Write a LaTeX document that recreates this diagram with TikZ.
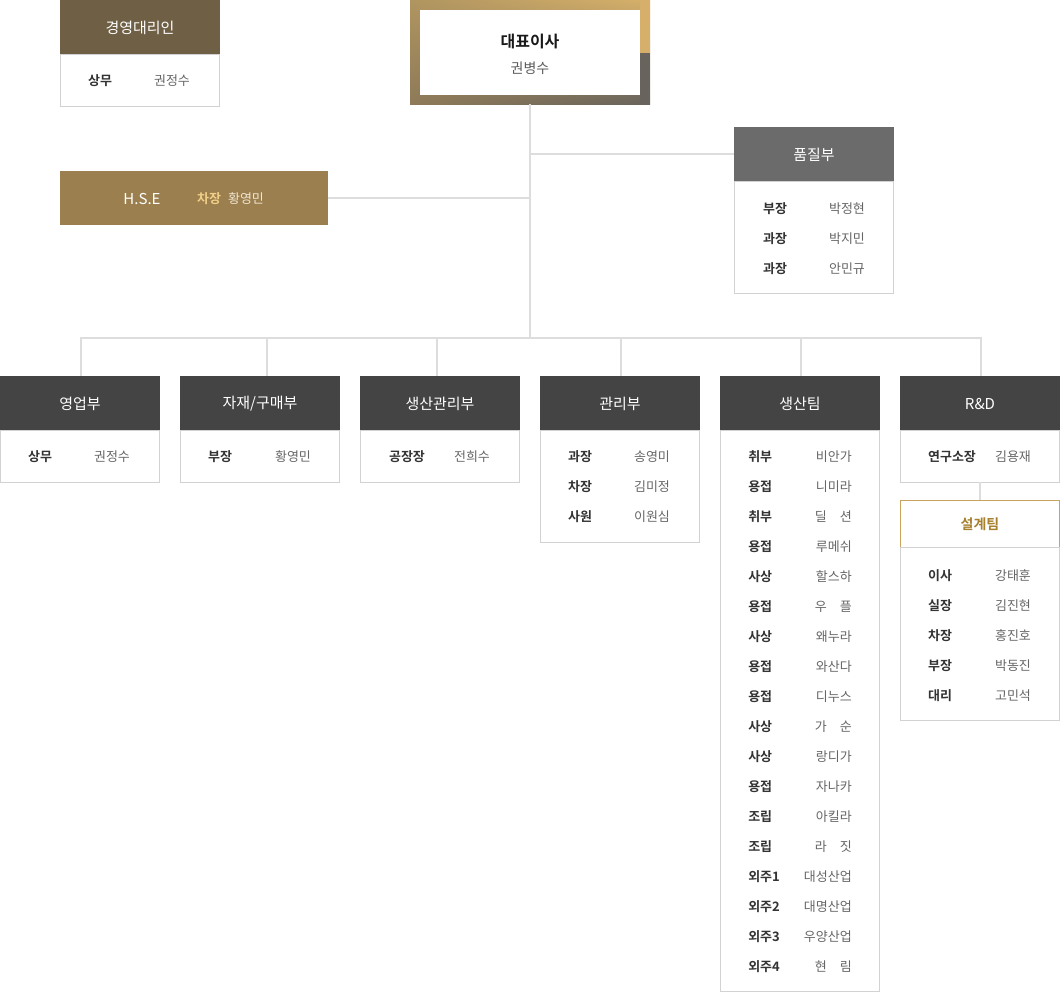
\documentclass[tikz,border=0pt]{standalone}
\usepackage{fontspec}
\usetikzlibrary{shadings}
\setmainfont{Noto Sans CJK KR}[BoldFont={Noto Sans CJK KR Bold}]
\definecolor{bordc}{HTML}{D2D2D2}
\definecolor{linec}{HTML}{DDDDDD}
\definecolor{labc}{HTML}{333333}
\definecolor{namec}{HTML}{666666}
\definecolor{darkh}{HTML}{444444}
\definecolor{qagray}{HTML}{6B6B6B}
\definecolor{agentc}{HTML}{6F5F45}
\definecolor{hsec}{HTML}{9B7F4F}
\definecolor{goldb}{HTML}{C6A45E}
\definecolor{goldt}{HTML}{A8812E}
\definecolor{hsegold}{HTML}{F2CF86}
\definecolor{hselight}{HTML}{F0E6D2}
\definecolor{ceoTL}{HTML}{B09560}
\definecolor{ceoTR}{HTML}{D6B06A}
\definecolor{ceoBL}{HTML}{8E7A58}
\definecolor{ceoBR}{HTML}{68635C}
\newcommand\prow[6]{\node[lab] (#1l) at (#3,#2) {#5}; \node[nm] (#1n) at (#4,#2) {#6};}
\tikzset{
  hdr/.style={rectangle, inner sep=0pt, outer sep=0pt, minimum width=120pt, minimum height=40.5pt,
    text=white, font=\fontsize{11.25}{13}\selectfont, anchor=north west},
  bodybox/.style={rectangle, draw=bordc, line width=0.75pt, fill=white, inner sep=0pt, outer sep=0pt,
    minimum width=119.25pt, anchor=north west, xshift=0.375pt},
  lab/.style={font=\fontsize{9.75}{12}\selectfont\bfseries, text=labc, inner sep=0pt, yshift=-1.1pt},
  nm/.style={font=\fontsize{9.75}{12}\selectfont, text=namec, inner sep=0pt, yshift=-1.1pt},
  ttl/.style={text=white, font=\fontsize{11.25}{13}\selectfont, inner sep=0pt, yshift=-0.8pt},
  conn/.style={draw=linec, line width=1.5pt},
}
\begin{document}
\begin{tikzpicture}[x=0.75pt, y=-0.75pt]
\useasboundingbox (0,0) rectangle (1060,992);

% ---------- CEO ----------
\node[rectangle, inner sep=0pt, outer sep=0pt, minimum width=180pt, minimum height=78pt,
  shade, upper left=ceoTL, upper right=ceoTR, lower left=ceoBL, lower right=ceoBR,
  anchor=north west] (ceoframe) at (410,0) {};
\fill[ceoTR] (640,0) rectangle (650,53);
\fill[ceoBR] (640,53) rectangle (650,104);
\node[rectangle, fill=white, inner sep=0pt, minimum width=165pt, minimum height=63.75pt,
  anchor=north west] (ceo) at (420,10) {};
\node[font=\fontsize{12}{14}\selectfont\bfseries, text=black!90, inner sep=0pt, yshift=-1.2pt] (ceot) at (530,40) {대표이사};
\node[font=\fontsize{10.5}{13}\selectfont, text=namec!90!black, inner sep=0pt, yshift=-1.1pt] (ceon) at (530,67) {권병수};

% ---------- 경영대리인 ----------
\node[hdr, fill=agentc] (agent) at (60,0) {};
\node[ttl] (agentt) at (140,27) {경영대리인};
\node[bodybox, minimum height=39pt] (agentb) at (60,54) {};
\prow{ag}{79}{100}{172}{상무}{권정수}

% ---------- H.S.E ----------
\node[rectangle, fill=hsec, inner sep=0pt, outer sep=0pt, minimum width=201pt, minimum height=40.5pt,
  anchor=north west] (hse) at (60,171) {};
\node[ttl] (hset) at (142,198) {H.S.E};
\node[text=hsegold, font=\fontsize{9.75}{12}\selectfont\bfseries, inner sep=0pt, yshift=-0.8pt] (hsel) at (209,198) {차장};
\node[text=hselight, font=\fontsize{9.75}{12}\selectfont, inner sep=0pt, yshift=-0.8pt] (hsen) at (246,198) {황영민};

% ---------- 품질부 ----------
\node[hdr, fill=qagray] (qa) at (734,127) {};
\node[ttl] (qat) at (814,154) {품질부};
\node[bodybox, minimum height=84pt] (qab) at (734,181) {};
\prow{qa1}{207}{775}{847}{부장}{박정현}
\prow{qa2}{237}{775}{847}{과장}{박지민}
\prow{qa3}{267}{775}{847}{과장}{안민규}

% ---------- bottom departments ----------
\node[hdr, fill=darkh] (d1) at (0,376) {};
\node[hdr, fill=darkh] (d2) at (180,376) {};
\node[hdr, fill=darkh] (d3) at (360,376) {};
\node[hdr, fill=darkh] (d4) at (540,376) {};
\node[hdr, fill=darkh] (d5) at (720,376) {};
\node[hdr, fill=darkh] (d6) at (900,376) {};
\node[ttl] (d1t) at (80,403) {영업부};
\node[ttl] (d2t) at (260,403) {자재/구매부};
\node[ttl] (d3t) at (440,403) {생산관리부};
\node[ttl] (d4t) at (620,403) {관리부};
\node[ttl] (d5t) at (800,403) {생산팀};
\node[ttl] (d6t) at (980,403) {R\&D};

\node[bodybox, minimum height=39pt] (d1b) at (0,430) {};
\node[bodybox, minimum height=39pt] (d2b) at (180,430) {};
\node[bodybox, minimum height=39pt] (d3b) at (360,430) {};
\node[bodybox, minimum height=84pt] (d4b) at (540,430) {};
\node[bodybox, minimum height=420.75pt] (d5b) at (720,430) {};
\node[bodybox, minimum height=39pt] (d6b) at (900,430) {};

\prow{s1}{455}{40}{112}{상무}{권정수}
\prow{s2}{455}{220}{293}{부장}{황영민}
\prow{s3}{455}{407}{472}{공장장}{전희수}
\prow{m1}{455}{580}{652}{과장}{송영미}
\prow{m2}{485}{580}{652}{차장}{김미정}
\prow{m3}{515}{580}{652}{사원}{이원심}
\prow{r1}{455}{952}{1013}{연구소장}{김용재}

\foreach \l/\n [count=\i] in {취부/비안가, 용접/니미라, 취부/딜\hspace{1em}션, 용접/루메쉬,
  사상/할스하, 용접/우\hspace{1em}플, 사상/왜누라, 용접/와산다, 용접/디누스, 사상/가\hspace{1em}순,
  사상/랑디가, 용접/자나카, 조립/아킬라, 조립/라\hspace{1em}짓, 외주1/대성산업, 외주2/대명산업,
  외주3/우양산업, 외주4/현\hspace{1em}림}{
  \node[lab, anchor=west] (pl\i) at (748,{425+30*\i}) {\l};
  \node[nm, anchor=east] (pn\i) at (852,{425+30*\i}) {\n};
}

% ---------- 설계팀 ----------
\node[rectangle, draw=goldb, line width=0.75pt, fill=white, inner sep=0pt, outer sep=0pt,
  minimum width=119.25pt, minimum height=35.25pt, anchor=north west, xshift=0.375pt] (design) at (900,500) {};
\node[text=goldt, font=\fontsize{10.5}{13}\selectfont\bfseries, inner sep=0pt, yshift=-1pt] (designt) at (980,523) {설계팀};
\node[bodybox, minimum height=129.75pt] (designb) at (900,547) {};
\prow{e1}{574}{940}{1013}{이사}{강태훈}
\prow{e2}{604}{940}{1013}{실장}{김진현}
\prow{e3}{634}{940}{1013}{차장}{홍진호}
\prow{e4}{664}{940}{1013}{부장}{박동진}
\prow{e5}{694}{940}{1013}{대리}{고민석}

% ---------- connectors ----------
\coordinate (bus) at (530,338);
\draw[conn] (ceoframe.south) -- (bus);
\draw[conn] (qa.west) -- (qa.west -| ceoframe.south);
\draw[conn] (hse.east) -- (hse.east -| ceoframe.south);
\draw[conn] ([xshift=0.75pt]d1.north) -- ([xshift=0.75pt]d1.north |- bus) -- ([xshift=0.75pt]d6.north |- bus) -- ([xshift=0.75pt]d6.north);
\draw[conn] ([xshift=5.25pt]d2.north) -- ([xshift=5.25pt]d2.north |- bus);
\draw[conn] ([xshift=-2.25pt]d3.north) -- ([xshift=-2.25pt]d3.north |- bus);
\draw[conn] ([xshift=0.75pt]d4.north) -- ([xshift=0.75pt]d4.north |- bus);
\draw[conn] ([xshift=0.75pt]d5.north) -- ([xshift=0.75pt]d5.north |- bus);
\draw[conn] (d6b.south) -- (design.north);
\end{tikzpicture}
\end{document}
